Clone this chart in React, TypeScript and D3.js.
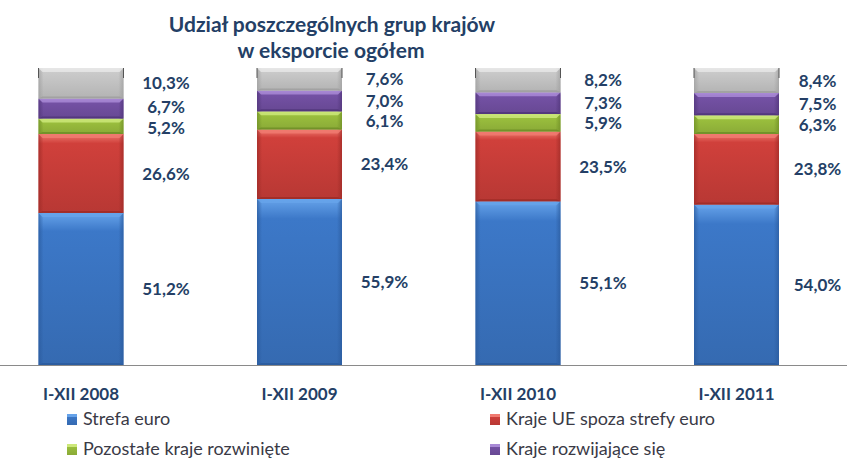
import React from "react";
import * as d3 from "d3";

const categories = ["I-XII 2008", "I-XII 2009", "I-XII 2010", "I-XII 2011"];
const seriesNames = [
  "Strefa euro",
  "Kraje UE spoza strefy euro",
  "Pozostałe kraje rozwinięte",
  "Kraje rozwijające się",
  "Pozostałe",
];
const strefaEuro = [51.2, 55.9, 55.1, 54.0];
const krajeUE = [26.6, 23.4, 23.5, 23.8];
const pozostaleRozwiniete = [5.2, 6.1, 5.9, 6.3];
const rozwijajace = [6.7, 7.0, 7.3, 7.5];
const pozostale = [10.3, 7.6, 8.2, 8.4];
const seriesValues = [strefaEuro, krajeUE, pozostaleRozwiniete, rozwijajace, pozostale];

const colors = [
  { base: "#3c78c8", light: "#66a3ea", dark: "#2a5a9c" },
  { base: "#d0403b", light: "#f07a70", dark: "#9c2a26" },
  { base: "#9cc13e", light: "#cde87a", dark: "#6d8c25" },
  { base: "#7552a6", light: "#a98ad6", dark: "#4f3478" },
  { base: "#cbcbcb", light: "#e6e6e6", dark: "#9e9e9e" },
];

const W = 854;
const H = 468;
const titleColor = "#243f66";
const labelColor = "#243f66";
const FONT = "Lato, 'Open Sans', sans-serif";
const LABEL_SIZE = 17;
const MIN_GAP = 20.6;

export default function App() {
  const x = d3.scalePoint<string>().domain(categories).range([81, 736.5]);
  const y = d3.scaleLinear().domain([0, 100]).range([365, 68]);
  const bw = 85;

  const table = categories.map((c, i) => {
    const row: any = { cat: c };
    seriesNames.forEach((s, k) => (row[s] = seriesValues[k][i]));
    return row;
  });
  const stacked = d3.stack<any>().keys(seriesNames)(table);

  // label positions (segment centres, nudged apart when too close)
  const labelY: number[][] = categories.map((_, i) => {
    const ys = stacked.map((layer) => (y(layer[i][0]) + y(layer[i][1])) / 2);
    for (let it = 0; it < 10; it++) {
      for (let k = 0; k < ys.length - 1; k++) {
        const gap = ys[k] - ys[k + 1];
        if (gap < MIN_GAP) {
          const d = (MIN_GAP - gap) / 2;
          ys[k] += d;
          ys[k + 1] -= d;
        }
      }
    }
    return ys;
  });

  const legendItems = [
    { k: 0, x: 67, y: 414 },
    { k: 1, x: 490, y: 414 },
    { k: 2, x: 67, y: 444 },
    { k: 3, x: 490, y: 444 },
  ];

  return (
    <svg width={W} height={H} style={{ position: "absolute", left: 0, top: 0 }}>
      <defs>
        {colors.map((c, k) => (
          <linearGradient key={k} id={`g${k}`} x1="0" y1="0" x2="0" y2="1">
            <stop offset="0" stopColor={c.light} />
            <stop offset="0.12" stopColor={c.base} />
            <stop offset="1" stopColor={d3.color(c.base)!.darker(0.35).formatHex()} />
          </linearGradient>
        ))}
        {colors.map((c, k) => (
          <linearGradient key={`h${k}`} id={`h${k}`} x1="0" y1="0" x2="1" y2="0">
            <stop offset="0" stopColor={c.dark} stopOpacity={0.7} />
            <stop offset="0.06" stopColor={c.dark} stopOpacity={0} />
            <stop offset="0.94" stopColor={c.dark} stopOpacity={0} />
            <stop offset="1" stopColor={c.dark} stopOpacity={0.7} />
          </linearGradient>
        ))}
      </defs>
      <rect width={W} height={H} fill="#ffffff" />
      <text x={332} y={32} textAnchor="middle" fontFamily={FONT} fontWeight="bold" fontSize={21} fill={titleColor}>
        Udział poszczególnych grup krajów
      </text>
      <text x={331} y={58} textAnchor="middle" fontFamily={FONT} fontWeight="bold" fontSize={21} fill={titleColor}>
        w eksporcie ogółem
      </text>

      {stacked.map((layer, k) =>
        layer.map((seg, i) => {
          const cx = x(categories[i])!;
          const x0 = cx - bw / 2;
          const yTop = y(seg[1]);
          const yBot = y(seg[0]);
          const h = yBot - yTop;
          const c = colors[k];
          const bev = 4;
          return (
            <g key={`${k}-${i}`}>
              <rect x={x0} y={yTop} width={bw} height={h} fill={`url(#g${k})`} />
              <rect x={x0} y={yTop} width={bw} height={h} fill={`url(#h${k})`} />
              <polygon
                points={`${x0},${yTop} ${x0 + bw},${yTop} ${x0 + bw - bev},${yTop + bev} ${x0 + bev},${yTop + bev}`}
                fill={c.light}
                opacity={0.85}
              />
              <polygon
                points={`${x0},${yBot} ${x0 + bw},${yBot} ${x0 + bw - bev},${yBot - 2} ${x0 + bev},${yBot - 2}`}
                fill={c.dark}
                opacity={0.8}
              />
              {k === 4 && (
                <>
                  <line x1={x0} y1={yTop} x2={x0} y2={yTop + 10} stroke="#555" strokeWidth={1} />
                  <line x1={x0 + bw} y1={yTop} x2={x0 + bw} y2={yTop + 10} stroke="#555" strokeWidth={1} />
                </>
              )}
            </g>
          );
        })
      )}

      <line x1={0} x2={847} y1={365.5} y2={365.5} stroke="#8a8a8a" strokeWidth={1} />

      {stacked.map((layer, k) =>
        layer.map((seg, i) => {
          const cx = x(categories[i])!;
          return (
            <text
              key={`l${k}-${i}`}
              x={cx + (i === 3 ? 81 : 85)}
              y={labelY[i][k]}
              dy="0.36em"
              textAnchor="middle"
              fontFamily={FONT}
              fontWeight="bold"
              fontSize={LABEL_SIZE}
              fill={labelColor}
            >
              {d3.format(".1f")(seg[1] - seg[0]).replace(".", ",")}%
            </text>
          );
        })
      )}

      {categories.map((c) => (
        <text key={c} x={x(c)!} y={400} textAnchor="middle" fontFamily={FONT} fontWeight="bold" fontSize={17} fill={labelColor}>
          {c}
        </text>
      ))}

      {legendItems.map((it) => (
        <g key={it.k}>
          <rect x={it.x} y={it.y} width={10} height={11} fill={`url(#g${it.k})`} />
          <rect x={it.x} y={it.y} width={10} height={3} fill={colors[it.k].light} />
          <text x={it.x + 16} y={it.y + 11} fontFamily={FONT} fontSize={18} fill="#3a3a46">
            {seriesNames[it.k]}
          </text>
        </g>
      ))}
    </svg>
  );
}
